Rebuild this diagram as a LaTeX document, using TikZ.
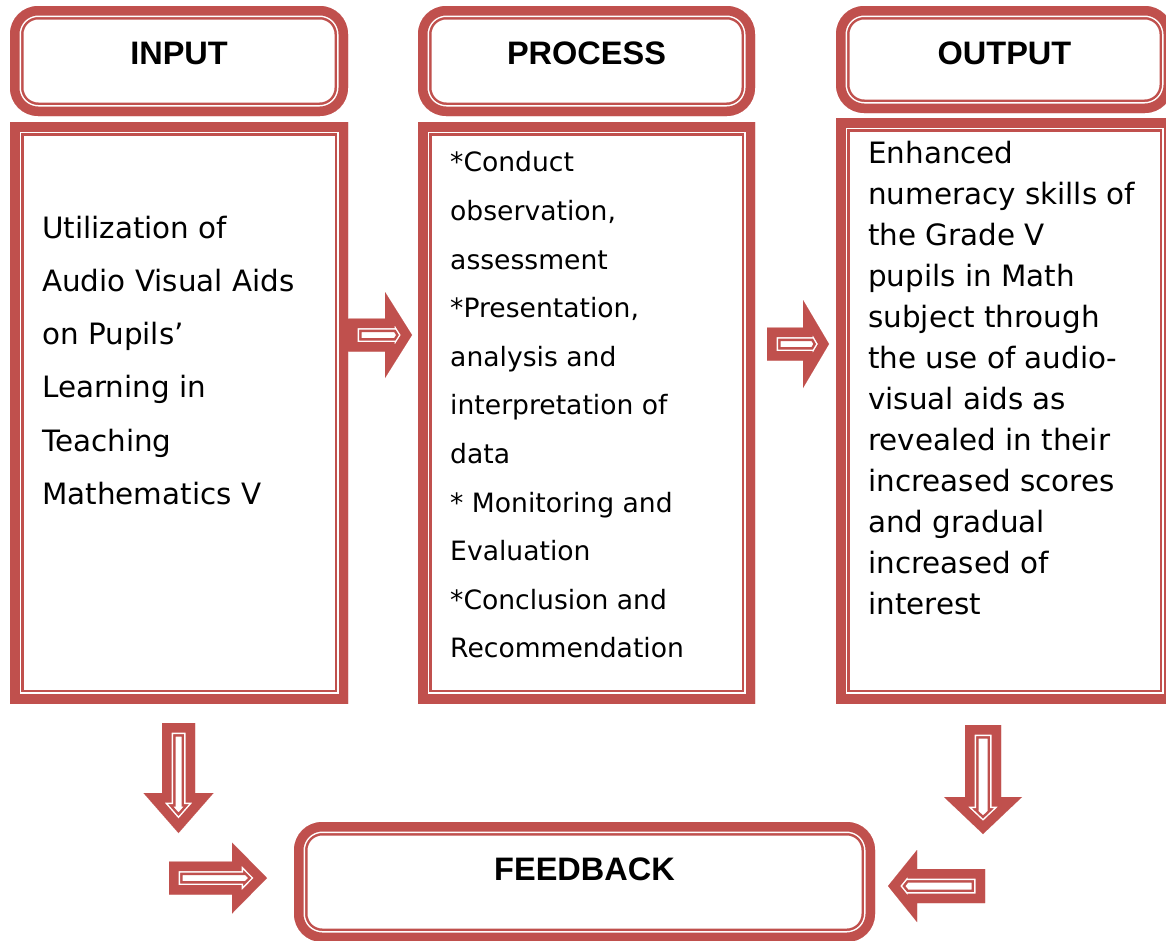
\documentclass[tikz,border=0pt]{standalone}
\usepackage{fontspec}
\setmainfont{DejaVu Sans}
\newfontfamily\titlefont{Liberation Sans}
\usetikzlibrary{calc}
\definecolor{framered}{HTML}{C0504D}

\newcommand\blockarrow[7]{%
  \begin{scope}[shift={(#2,#3)}, rotate=#1]
    \def\arrowpath{(0,{-#5/2}) -- ({#4-#7},{-#5/2}) -- ({#4-#7},{-#6/2}) -- (#4,0) -- ({#4-#7},{#6/2}) -- ({#4-#7},{#5/2}) -- (0,{#5/2}) -- cycle}
    \begin{scope}
      \clip \arrowpath;
      \fill[white] \arrowpath;
      \foreach \w/\c in {27/framered, 22/white, 19/framered}
        \draw[color=\c, line width=\w pt, miter limit=20] \arrowpath;
    \end{scope}
  \end{scope}}

\tikzset{
  redframe/.style={anchor=north west, inner sep=0pt, outer sep=0pt, fill=white, rounded corners=#1,
    path picture={
      \foreach \w/\c in {27/framered, 22/white, 19/framered}
        \draw[color=\c, line width=\w pt, rounded corners=#1] (path picture bounding box.south west) rectangle (path picture bounding box.north east);
    }},
  titletext/.style={anchor=base, inner sep=0pt, font=\titlefont\fontsize{32.5}{40}\bfseries\selectfont},
  bodytext/.style 2 args={anchor=north west, align=left, inner sep=0pt, font=\fontsize{#1}{#2}\selectfont}
}

\begin{document}
\begin{tikzpicture}[x=1pt, y=-1pt]
  \useasboundingbox (0,0) rectangle (1166,940);
  \node [redframe=28pt, minimum width=338pt, minimum height=110pt] (inhead) at (10,6) {};
  \node [redframe=0pt, minimum width=338pt, minimum height=581pt] (inbody) at (10,122) {};
  \node [redframe=28pt, minimum width=337pt, minimum height=110pt] (prhead) at (418,6) {};
  \node [redframe=0pt, minimum width=337pt, minimum height=581pt] (prbody) at (418,122) {};
  \node [redframe=28pt, minimum width=337pt, minimum height=107pt] (outhead) at (836,6) {};
  \node [redframe=0pt, minimum width=337pt, minimum height=585pt] (outbody) at (836,118) {};
  \node [redframe=28pt, minimum width=581pt, minimum height=120pt] (feedback) at (294,822) {};

  \node [titletext] (intitle) at ($(inhead.north)+(0,58)$) {INPUT};
  \node [titletext] (prtitle) at ($(prhead.north)+(0,58)$) {PROCESS};
  \node [titletext] (outtitle) at ($(outhead.north)+(0,58)$) {OUTPUT};
  \node [titletext] (fbtitle) at ($(feedback.north)+(0,58)$) {FEEDBACK};

  \node [bodytext={29.4}{53.3}] (intext) at (42,215.5) {Utilization of\\Audio Visual Aids\\on Pupils’\\Learning in\\Teaching\\Mathematics V};
  \node [bodytext={26.6}{48.6}] (prtext) at (450,151.5) {*Conduct\\observation,\\assessment\\*Presentation,\\analysis and\\interpretation of\\data\\* Monitoring and\\Evaluation\\*Conclusion and\\Recommendation};
  \node [bodytext={29.4}{41}] (outtext) at (868,140.5) {Enhanced\\numeracy skills of\\the Grade V\\pupils in Math\\subject through\\the use of audio-\\visual aids as\\revealed in their\\increased scores\\and gradual\\increased of\\interest};

  \foreach \ang/\tx/\ty/\len/\sw/\hw/\hl in {0/348/335/64/33/86/27, 0/767/344/62/33/88/26, -90/178.5/723/110/33/70/40, 0/169/878/98/33/71/35, -90/983/725/109/36/78/37, 180/985/886/97/34/72/29}
    \blockarrow{\ang}{\tx}{\ty}{\len}{\sw}{\hw}{\hl};
\end{tikzpicture}
\end{document}
